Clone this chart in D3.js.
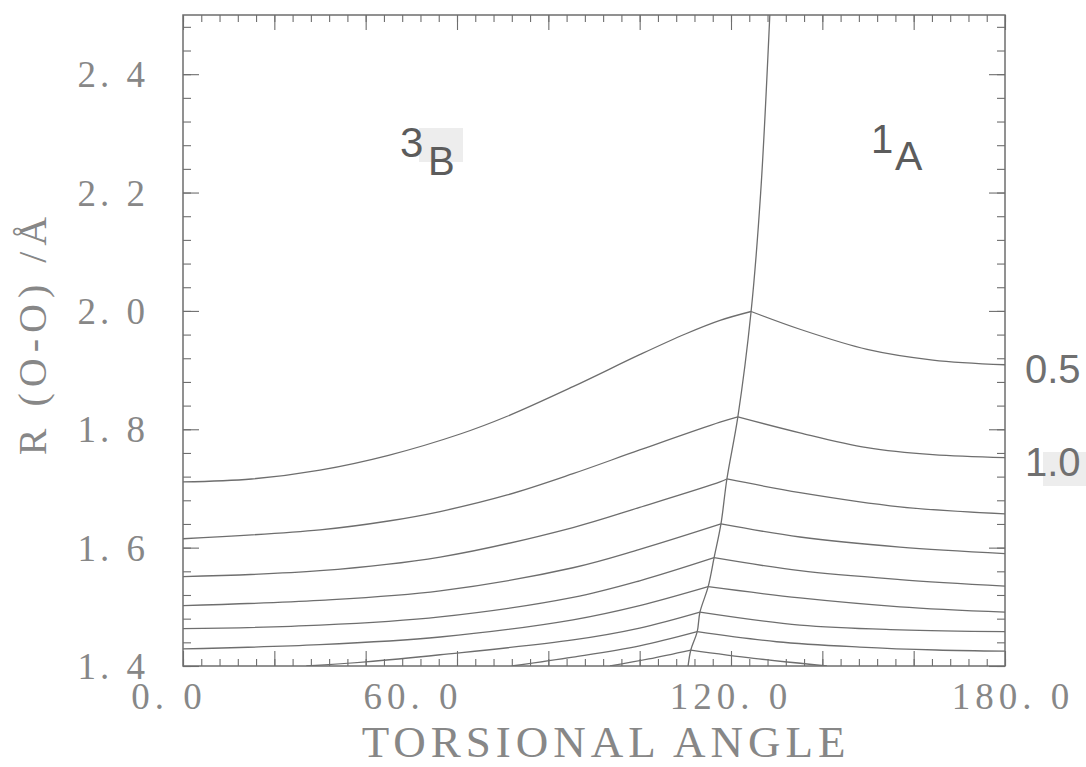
<!DOCTYPE html>
<html>
<head>
<meta charset="utf-8">
<script src="https://cdn.jsdelivr.net/npm/d3@7"></script>
<style>
  body { margin: 0; background: #fff; }
  svg { display: block; }
</style>
</head>
<body>
<script>
// each curve: [torsional angle, R(O-O)], peak = crossing point
const curve1 = [[0,1.711],[15,1.716],[30,1.731],[45,1.756],[60.7,1.792],[71,1.822],[85.4,1.872],[100,1.926],[110,1.961],[117.6,1.984],[124.4,1.999],[135.1,1.969],[149.8,1.935],[164.2,1.917],[180,1.909]];
const curve2 = [[0,1.615],[30,1.630],[45,1.645],[56.3,1.661],[71,1.689],[85.4,1.725],[100,1.765],[117.6,1.812],[121.5,1.821],[135.1,1.794],[149.8,1.769],[164.2,1.757],[180,1.752]];
const curve3 = [[0,1.551],[30,1.561],[56.3,1.584],[85.4,1.634],[100,1.668],[117.6,1.711],[119.1,1.716],[135.1,1.693],[157,1.669],[180,1.657]];
const curve4 = [[0,1.502],[30,1.511],[56.3,1.527],[85.4,1.566],[100,1.597],[117.8,1.640],[135.1,1.618],[157,1.601],[180,1.590]];
const curve5 = [[0,1.463],[30,1.469],[56.3,1.483],[85.4,1.516],[100,1.544],[116.3,1.583],[135.1,1.561],[157,1.546],[180,1.535]];
const curve6 = [[0,1.429],[30,1.436],[56.3,1.449],[85.4,1.478],[100,1.502],[115,1.534],[135.1,1.515],[157,1.500],[180,1.491]];
const curve7 = [[27,1.40],[40,1.407],[56.3,1.419],[85.4,1.444],[100,1.464],[113.2,1.491],[135.1,1.469],[157,1.461],[180,1.458]];
const curve8 = [[72,1.40],[85.4,1.415],[100,1.434],[112.6,1.458],[130,1.441],[148.2,1.432],[165,1.427],[180,1.425]];
const curve9 = [[93.5,1.40],[102,1.412],[111.2,1.427],[125,1.413],[141,1.40]];
const curves = [curve1, curve2, curve3, curve4, curve5, curve6, curve7, curve8, curve9];

// boundary between the 3B and 1A surfaces
const seam = [[110.6,1.40],[111.2,1.427],[112.6,1.458],[113.2,1.491],[115,1.534],[116.3,1.583],[117.8,1.640],[119.1,1.716],[121.5,1.821],[124.4,1.999],[126.5,2.2],[128.5,2.5]];

const xTickLabels = [0, 60, 120, 180];
const yTickLabels = [1.4, 1.6, 1.8, 2.0, 2.2, 2.4];
const curveLabels = ["0.5", "1.0"];

const width = 1086, height = 767;
const margin = { top: 15, right: 81, bottom: 101, left: 183 };
const grey = "#6e6e6e";
const textGrey = "#878787";

const svg = d3.select("body").append("svg")
	.attr("width", width)
	.attr("height", height);

const x = d3.scaleLinear().domain([0, 180]).range([margin.left, width - margin.right]);
const y = d3.scaleLinear().domain([1.4, 2.5]).range([height - margin.bottom, margin.top]);

svg.append("defs").append("clipPath").attr("id", "plotClip")
	.append("rect")
	.attr("x", x(0)).attr("y", y(2.5))
	.attr("width", x(180) - x(0)).attr("height", y(1.4) - y(2.5));

// scan highlights behind two of the labels
svg.append("rect").attr("x", 419).attr("y", 128).attr("width", 44).attr("height", 34).attr("fill", "#ededed");
svg.append("rect").attr("x", 1043).attr("y", 452).attr("width", 43).attr("height", 34).attr("fill", "#ededed");

// axes: minor + major ticks pointing inward on all four sides
const minorX = d3.range(0, 181, 4);
const majorX = d3.range(0, 181, 20);
const minorY = d3.range(0, 28).map((i) => 1.4 + i * 0.04);
const majorY = d3.range(0, 6).map((i) => 1.4 + i * 0.2);

const addAxis = (axis, tx, ty) => {
	const g = svg.append("g").attr("transform", `translate(${tx},${ty})`).call(axis);
	g.select(".domain").remove();
	g.selectAll("line").attr("stroke", grey).attr("stroke-width", 1.1);
	g.selectAll("text").remove();
};

addAxis(d3.axisBottom(x).tickValues(minorX).tickSize(-7), 0, y(1.4));
addAxis(d3.axisBottom(x).tickValues(majorX).tickSize(-15), 0, y(1.4));
addAxis(d3.axisTop(x).tickValues(minorX).tickSize(-7), 0, y(2.5));
addAxis(d3.axisTop(x).tickValues(majorX).tickSize(-15), 0, y(2.5));
addAxis(d3.axisLeft(y).tickValues(minorY).tickSize(-8), x(0), 0);
addAxis(d3.axisLeft(y).tickValues(majorY).tickSize(-16), x(0), 0);
addAxis(d3.axisRight(y).tickValues(minorY).tickSize(-8), x(180), 0);
addAxis(d3.axisRight(y).tickValues(majorY).tickSize(-16), x(180), 0);

svg.append("rect")
	.attr("x", x(0)).attr("y", y(2.5))
	.attr("width", x(180) - x(0)).attr("height", y(1.4) - y(2.5))
	.attr("fill", "none")
	.attr("stroke", grey)
	.attr("stroke-width", 1.5);

// curves, split at the peak so the kink stays sharp
const line = d3.line()
	.x((d) => x(d[0]))
	.y((d) => y(d[1]))
	.curve(d3.curveCatmullRom.alpha(0.5));

const plot = svg.append("g").attr("clip-path", "url(#plotClip)");

curves.forEach((c) => {
	const peak = d3.maxIndex(c, (d) => d[1]);
	[c.slice(0, peak + 1), c.slice(peak)].forEach((part) => {
		plot.append("path")
			.attr("d", line(part))
			.attr("fill", "none")
			.attr("stroke", grey)
			.attr("stroke-width", 1.3);
	});
});

plot.append("path")
	.attr("d", line(seam))
	.attr("fill", "none")
	.attr("stroke", grey)
	.attr("stroke-width", 1.3);

// tick labels
const fmt = (d) => d.toFixed(1).replace(".", ". ");

svg.append("g").selectAll("text")
	.data(yTickLabels)
	.join("text")
	.attr("x", x(0) - 34)
	.attr("y", (d) => y(d) + 13)
	.attr("text-anchor", "end")
	.attr("font-family", "Liberation Serif")
	.attr("font-size", 37)
	.attr("letter-spacing", 4)
	.attr("fill", textGrey)
	.text(fmt);

const xLabelShift = [-14, -44, 0, 8];
svg.append("g").selectAll("text")
	.data(xTickLabels)
	.join("text")
	.attr("x", (d, i) => x(d) + xLabelShift[i])
	.attr("y", y(1.4) + 43)
	.attr("text-anchor", "middle")
	.attr("font-family", "Liberation Serif")
	.attr("font-size", 37)
	.attr("letter-spacing", 5)
	.attr("fill", textGrey)
	.text(fmt);

// axis titles
svg.append("text")
	.attr("x", 606)
	.attr("y", 757)
	.attr("text-anchor", "middle")
	.attr("font-family", "Liberation Serif")
	.attr("font-size", 45)
	.attr("letter-spacing", 5)
	.attr("fill", textGrey)
	.text("TORSIONAL ANGLE");

svg.append("text")
	.attr("transform", "translate(46,333) rotate(-90)")
	.attr("text-anchor", "middle")
	.attr("font-family", "Liberation Serif")
	.attr("font-size", 40)
	.attr("letter-spacing", 6)
	.attr("fill", textGrey)
	.text("R (O-O) /Å");

// state labels with spin multiplicity as a raised digit
const stateText = (txt, tx, ty, size) => svg.append("text")
	.attr("x", tx).attr("y", ty)
	.attr("font-family", "Liberation Sans")
	.attr("font-size", size)
	.attr("fill", "#5c5c5c")
	.text(txt);

stateText("3", 400, 157, 42);
stateText("B", 428, 175, 40);
stateText("1", 871, 153, 40);
stateText("A", 895, 170, 41);

svg.append("g").selectAll("text")
	.data(curveLabels)
	.join("text")
	.attr("x", x(180) + 20)
	.attr("y", (d, i) => y(curves[i][curves[i].length - 1][1]) + 18)
	.attr("font-family", "Liberation Sans")
	.attr("font-size", 40)
	.attr("fill", "#707070")
	.text((d) => d);
</script>
</body>
</html>
